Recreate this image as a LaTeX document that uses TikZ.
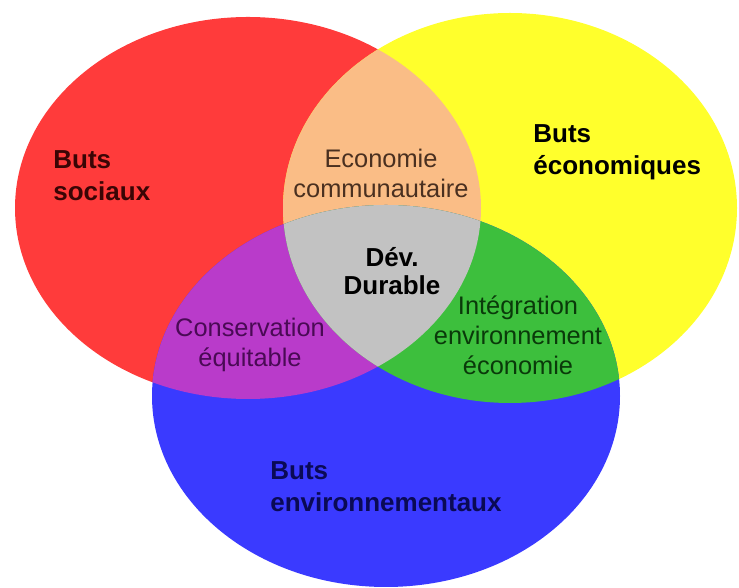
\documentclass[tikz,border=0pt]{standalone}
\usepackage{fontspec}
\setmainfont{Liberation Sans}
\usepackage{tikz}
\usetikzlibrary{positioning}
\definecolor{socred}  {HTML}{FF3B3B}
\definecolor{ecoyel}  {HTML}{FFFF2C}
\definecolor{envblue} {HTML}{3A3AFF}
\definecolor{peach}   {HTML}{FABD86}
\definecolor{durgray} {HTML}{C2C2C2}
\definecolor{mauve}   {HTML}{B93BCA}
\definecolor{leaf}    {HTML}{3DBF3D}
\definecolor{redink}  {HTML}{3A0505}
\definecolor{blueink} {HTML}{0A0A55}
\definecolor{peachink}{HTML}{4A3020}
\definecolor{mauveink}{HTML}{4A0A55}
\definecolor{leafink} {HTML}{0A3A0A}
\newcommand{\socpath}{(248,380) ellipse [x radius=233, y radius=191]}
\newcommand{\ecopath}{(510,380) ellipse [x radius=227, y radius=195]}
\newcommand{\envpath}{(386,192) ellipse [x radius=234, y radius=191]}
\tikzset{
  % --- labels
  goal/.style  = {font=\fontsize{13}{16}\selectfont\bfseries, align=left, anchor=west,
                  inner sep=0pt},
  inter/.style = {font=\fontsize{12.7}{15}\selectfont, align=center},
  core/.style  = {font=\fontsize{13}{14}\selectfont\bfseries, align=center},
}
\begin{document}
\begin{tikzpicture}[x=0.5pt,y=0.5pt]
  \useasboundingbox (0,0) rectangle (739,588);
  % --- the three goals
  \fill[socred]  \socpath;
  \fill[ecoyel]  \ecopath;
  \fill[envblue] \envpath;
  % --- overlaps
  \begin{scope}
    \clip \socpath;
    \fill[peach] \ecopath;
    \fill[mauve] \envpath;
  \end{scope}
  \begin{scope}
    \clip \ecopath;
    \fill[leaf] \envpath;
    \clip \socpath;
    \fill[durgray] \envpath;
  \end{scope}
  % --- texts
  \node[goal, text=redink] (soc) at (53,412) {Buts\\sociaux};
  \node[goal] (eco) at (533,436) {Buts\\économiques};
  \node[goal, text=blueink] (env) at (270,101) {Buts\\environnementaux};
  \node[inter, text=peachink] (ecocom) at (381,415) {Economie\\communautaire};
  \node[inter, text=mauveink] (cons) at (250,243) {Conservation\\équitable};
  \node[inter, text=leafink] (integ) at (518,253) {Intégration\\environnement\\économie};
  \node[core] (dev) at (392,317) {Dév.\\Durable};
\end{tikzpicture}
\end{document}
